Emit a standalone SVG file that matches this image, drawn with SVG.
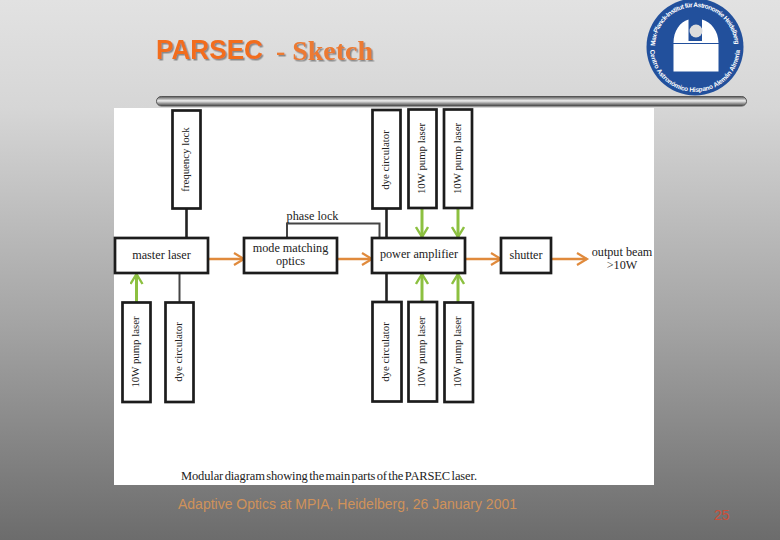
<svg xmlns="http://www.w3.org/2000/svg" width="780" height="540" viewBox="0 0 780 540">
<style>
.box{fill:#fff;stroke:#1c1c1c;stroke-width:2.7}
.t{font-family:"Liberation Serif",serif;font-size:12.2px;fill:#222;text-anchor:middle}
.r{font-family:"Liberation Serif",serif;font-size:10.8px;fill:#222;text-anchor:middle}
.link{fill:none;stroke:#222;stroke-width:2.6}
.thin{fill:none;stroke:#444;stroke-width:2}
.or{fill:none;stroke:#e08a3c;stroke-width:2.4;marker-end:url(#ao)}
.gr{fill:none;stroke:#8cc040;stroke-width:3;marker-end:url(#ag)}
.logo{font-family:"Liberation Sans",sans-serif;font-size:6.5px;font-weight:bold;fill:#fff}
</style>
<defs>
<linearGradient id="bg" x1="0" y1="0" x2="0" y2="1">
<stop offset="0" stop-color="#e2e2e2"/><stop offset=".2" stop-color="#d6d6d6"/><stop offset=".6" stop-color="#a4a4a4"/><stop offset="1" stop-color="#6c6c6c"/>
</linearGradient>
<linearGradient id="bar" x1="0" y1="0" x2="0" y2="1">
<stop offset="0" stop-color="#555"/><stop offset=".45" stop-color="#eee"/><stop offset="1" stop-color="#444"/>
</linearGradient>
<filter id="sh" x="-5%" y="-10%" width="110%" height="125%"><feDropShadow dx="1.500" dy="1.500" stdDeviation="0.300" flood-color="#8a8a8a"/></filter>
<marker id="ao" markerUnits="userSpaceOnUse" markerWidth="14" markerHeight="16" refX="11" refY="7" orient="auto" viewBox="0 0 14 14"><path d="M1 1L11 7L1 13" fill="none" stroke="#e08a3c" stroke-width="2.2"/></marker>
<marker id="ag" markerUnits="userSpaceOnUse" markerWidth="16" markerHeight="14" refX="11" refY="7" orient="auto" viewBox="0 0 14 14"><path d="M1 1L11 7L1 13" fill="none" stroke="#8cc040" stroke-width="2.4"/></marker>
<path id="arcTop" d="M655 47A40 40 0 0 1 735 47"/>
<path id="arcBot" d="M650 47A45 45 0 0 0 740 47"/>
</defs>
<rect width="780" height="540" fill="url(#bg)"/>
<rect x="114" y="108" width="540" height="377" fill="#fff"/>
<rect x="156.500" y="96.500" width="590" height="9.500" rx="4.700" fill="url(#bar)" stroke="#555"/>
<g id="title" filter="url(#sh)">
<text x="156" y="59" font-family="'Liberation Sans',sans-serif" font-weight="bold" font-size="27" textLength="107" lengthAdjust="spacingAndGlyphs" fill="#f26d1c">PARSEC</text>
<text x="276" y="60" font-family="'Liberation Serif',serif" font-weight="bold" font-size="28" textLength="97" lengthAdjust="spacingAndGlyphs" fill="#ec7a30">- Sketch</text>
</g>
<g id="logo">
<circle cx="695" cy="47" r="48.500" fill="#22509c"/>
<path d="M673.500 43C673.500 31 680 22 688.500 19.500V41H702V19.500C711 22 718.500 31 718.500 43Z" fill="#fff"/>
<circle cx="696" cy="31" r="6.500" fill="#dcdcdc"/>
<rect x="673.500" y="44" width="45" height="27.500" fill="#fff"/>
<text class="logo"><textPath href="#arcTop" startOffset="1" textLength="122" lengthAdjust="spacing">Max-Planck-Institut für Astronomie Heidelberg</textPath></text>
<text class="logo"><textPath href="#arcBot" startOffset="3" textLength="135" lengthAdjust="spacing">Centro Astronómico Hispano Alemán Almería</textPath></text>
</g>
<g id="connectors">
<path class="link" d="M186.500 209V238"/>
<path class="thin" d="M179.500 273V302"/>
<path class="link" d="M386.500 209V238"/>
<path class="link" d="M386.500 273V302"/>
<path class="thin" d="M287 238V223.500H379.500V238"/>
<path class="or" d="M208 259H244"/>
<path class="or" d="M337 259H372"/>
<path class="or" d="M465 259H501"/>
<path class="or" d="M551 259H587"/>
<path class="gr" d="M136.500 302V274"/>
<path class="gr" d="M422 209V237"/>
<path class="gr" d="M458 209V237"/>
<path class="gr" d="M422 302V274"/>
<path class="gr" d="M458 302V274"/>
</g>
<g id="frequency-lock"><rect class="box" x="172.500" y="110.500" width="28" height="98"/><text class="r" transform="translate(188.500 159.500) rotate(-90)">frequency lock</text></g>
<g id="dye-top"><rect class="box" x="372.500" y="110" width="28" height="98.500"/><text class="r" transform="translate(389 160) rotate(-90)">dye circulator</text></g>
<g id="pump-top-1"><rect class="box" x="408.500" y="109.500" width="28" height="98.500"/><text class="r" transform="translate(425 158.500) rotate(-90)">10W pump laser</text></g>
<g id="pump-top-2"><rect class="box" x="444" y="109.500" width="28" height="98.500"/><text class="r" transform="translate(460.500 158.500) rotate(-90)">10W pump laser</text></g>
<g id="master-laser"><rect class="box" x="115" y="238" width="93" height="35"/><text class="t" x="161.500" y="259">master laser</text></g>
<g id="mode-matching"><rect class="box" x="244" y="238" width="93" height="35"/><text class="t" x="290.500" y="252">mode matching</text><text class="t" x="290.500" y="265">optics</text></g>
<g id="power-amplifier"><rect class="box" x="372" y="238" width="93" height="35"/><text class="t" x="419" y="258">power amplifier</text></g>
<g id="shutter"><rect class="box" x="501" y="238" width="50" height="35"/><text class="t" x="526" y="259">shutter</text></g>
<g id="pump-left"><rect class="box" x="122.500" y="302.500" width="28" height="99.500"/><text class="r" transform="translate(139 352) rotate(-90)">10W pump laser</text></g>
<g id="dye-left"><rect class="box" x="165.500" y="302.500" width="28" height="99.500"/><text class="r" transform="translate(182 352) rotate(-90)">dye circulator</text></g>
<g id="dye-bottom"><rect class="box" x="372.500" y="302" width="29" height="99.500"/><text class="r" transform="translate(389 352) rotate(-90)">dye circulator</text></g>
<g id="pump-bottom-1"><rect class="box" x="408.500" y="302" width="28.500" height="99.500"/><text class="r" transform="translate(425 352) rotate(-90)">10W pump laser</text></g>
<g id="pump-bottom-2"><rect class="box" x="444.500" y="302.500" width="28.500" height="99.500"/><text class="r" transform="translate(461 352) rotate(-90)">10W pump laser</text></g>
<text class="t" x="312.500" y="220">phase lock</text>
<text class="t" x="622" y="256">output beam</text>
<text class="t" x="622" y="269">&gt;10W</text>
<text x="181" y="480" font-family="'Liberation Serif',serif" font-size="12.500" word-spacing="-1.500" fill="#222" textLength="296" lengthAdjust="spacing">Modular diagram showing the main parts of the PARSEC laser.</text>
<text x="178" y="509" font-family="'Liberation Sans',sans-serif" font-size="14" fill="#d0925a" textLength="339" lengthAdjust="spacing">Adaptive Optics at MPIA, Heidelberg, 26 January 2001</text>
<text x="714" y="520" font-family="'Liberation Sans',sans-serif" font-size="14" fill="#cc4e38">25</text>
</svg>
